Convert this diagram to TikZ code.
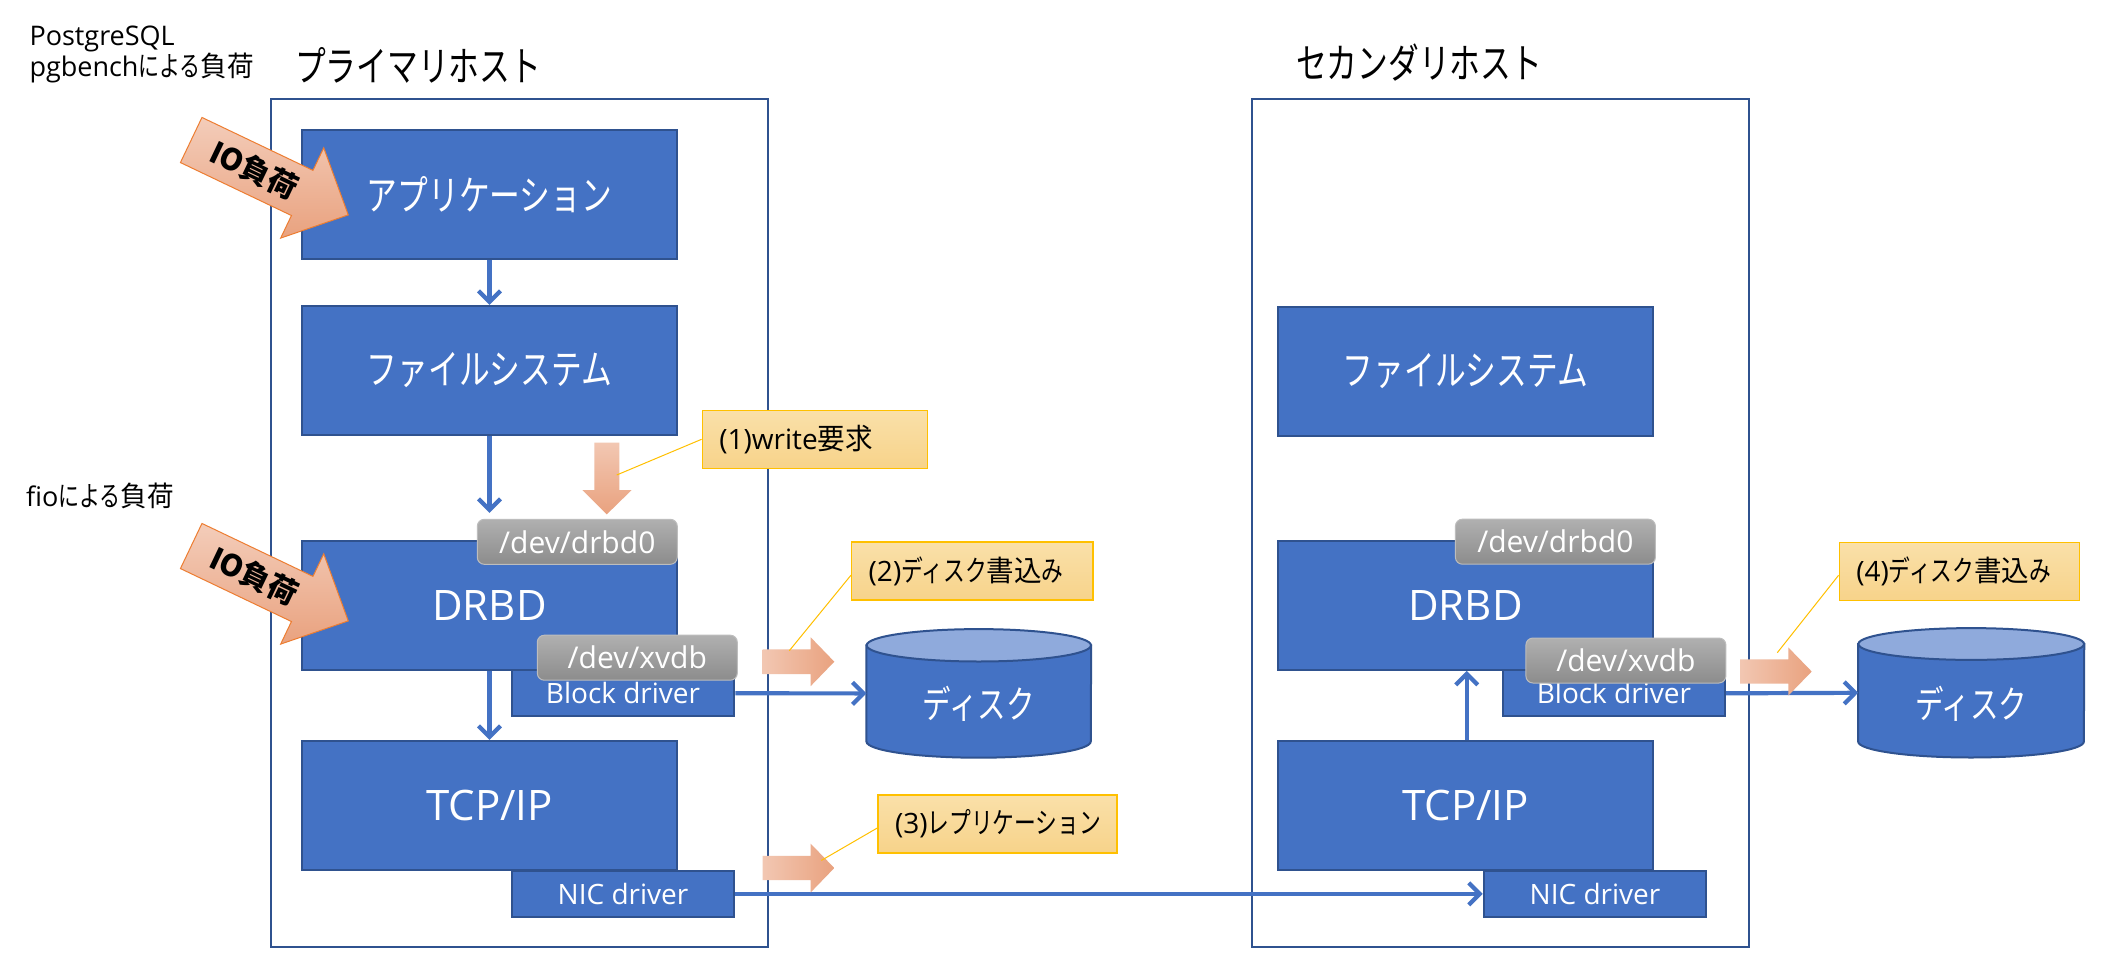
\documentclass[tikz,border=0pt]{standalone}
\usepackage{fontspec}
\setmainfont{Open Sans}
\newfontfamily\lat{Open Sans}
\newfontfamily\jp{Noto Sans CJK JP}[FakeStretch=0.75]
\newfontfamily\jpk{Noto Sans CJK JP}[FakeStretch=0.95]
\newfontfamily\jpio{Noto Sans CJK JP}[FakeStretch=1.0]
\usetikzlibrary{arrows.meta}
\definecolor{boxblue}{HTML}{4472C4}
\definecolor{boxedge}{HTML}{2F528F}
\definecolor{disktop}{HTML}{8FAADC}
\definecolor{lblT}{HTML}{FAE0A9}
\definecolor{lblB}{HTML}{F7D38A}
\definecolor{lbledge}{HTML}{FFC000}
\definecolor{salmonL}{HTML}{F2C7B2}
\definecolor{salmonD}{HTML}{E9A27F}
\definecolor{grayT}{HTML}{B0B0B0}
\definecolor{grayB}{HTML}{8C8C8C}
\definecolor{grayedge}{HTML}{BDBDBD}
\definecolor{arrowedge}{HTML}{ED7D31}
\tikzset{
  hostframe/.style={draw=boxedge, line width=2pt, inner sep=0pt},
  layerbox/.style={draw=boxedge, fill=boxblue, line width=2pt, text=white,
    minimum width=375.6pt, minimum height=129pt, inner sep=0pt},
  jpbig/.style={font=\jp\fontsize{41pt}{48pt}\selectfont},
  latbig/.style={font=\lat\fontsize{42pt}{50pt}\selectfont},
  drvbox/.style={draw=boxedge, fill=boxblue, line width=2pt, text=white,
    minimum width=222.6pt, minimum height=46pt, inner sep=0pt,
    font=\lat\fontsize{28pt}{34pt}\selectfont},
  devlbl/.style={rounded corners=7pt, top color=grayT, bottom color=grayB,
    draw=grayedge, line width=1pt, text=white, minimum width=200pt,
    minimum height=45pt, inner sep=0pt, font=\lat\fontsize{30pt}{36pt}\selectfont},
  conn/.style={draw=boxblue, line width=4.2pt,
    -{Straight Barb[length=11pt,width=22pt]}},
  notelbl/.style={draw=lbledge, line width=1.5pt, top color=lblT, bottom color=lblB,
    minimum height=58pt, inner xsep=17pt, inner ysep=0pt, align=left, text=black},
  callout/.style={draw=lbledge, line width=1pt},
  salmonh/.style={left color=salmonL, right color=salmonD},
  salmonv/.style={top color=salmonL, bottom color=salmonD},
  ioarrowstyle/.style={top color=salmonL!90!white, bottom color=salmonD, draw=arrowedge, line width=1pt},
  plaintext/.style={inner sep=0pt, text=black},
}
\newcommand{\lblfont}{\lat\fontsize{28pt}{32pt}\selectfont}
\newcommand{\lbljp}{\jp\fontsize{29pt}{32pt}\selectfont}
\newcommand{\lblkj}{\jpk\fontsize{29pt}{32pt}\selectfont}
\newcommand{\topfont}{\lat\fontsize{27pt}{32pt}\selectfont}
\newcommand{\topjp}{\jp\fontsize{28pt}{32pt}\selectfont}
\newcommand{\topkj}{\jpk\fontsize{28pt}{32pt}\selectfont}
\begin{document}
\begin{tikzpicture}[x=1pt,y=1pt]
\useasboundingbox (0,0) rectangle (2102,-964);
\fill[white] (0,0) rectangle (2102,-964);

% ---------- host frames and titles
\node[hostframe, minimum width=497.3pt, minimum height=847.4pt] (prim) at (519.35,-523) {};
\node[hostframe, minimum width=497.3pt, minimum height=848pt] (sec) at (1500.35,-522.6) {};
\node[plaintext, anchor=west, font=\jp\fontsize{41pt}{46pt}\selectfont] (primtitle) at (295,-65) {プライマリホスト};
\node[plaintext, anchor=west, font=\jp\fontsize{41pt}{46pt}\selectfont] (sectitle) at (1296,-63) {セカンダリホスト};

% ---------- left side texts
\node[plaintext, anchor=base west] (pg1) at (29.3,-45) {\topfont PostgreSQL};
\node[plaintext, anchor=base west] (pg2) at (29.3,-76) {{\topfont pgbench}{\topjp による}{\topkj 負荷}};
\node[plaintext, anchor=base west] (fio) at (26,-506) {{\topfont fio}{\topjp による}{\topkj 負荷}};

% ---------- primary layers
\node[drvbox] (blkp) at (623,-693.3) {Block driver};
\node[drvbox] (nicp) at (623,-893.8) {NIC driver};
\node[layerbox, jpbig] (appp) at (489.5,-194.5) {アプリケーション};
\node[layerbox, jpbig] (fsp) at (489.5,-370.4) {ファイルシステム};
\node[layerbox, latbig] (drbdp) at (489.5,-605.4) {DRBD};
\node[layerbox, latbig] (tcpp) at (489.5,-805.4) {TCP/IP};
\node[devlbl] (drbd0p) at (577.3,-541.8) {/dev/drbd0};
\node[devlbl] (xvdbp) at (637.3,-657.7) {/dev/xvdb};

% ---------- secondary layers
\node[drvbox] (blks) at (1613.9,-693.3) {Block driver};
\node[drvbox] (nics) at (1595,-893.8) {NIC driver};
\node[layerbox, jpbig] (fss) at (1465.5,-371) {ファイルシステム};
\node[layerbox, latbig] (drbds) at (1465.5,-605.4) {DRBD};
\node[layerbox, latbig] (tcps) at (1465.5,-805.4) {TCP/IP};
\node[devlbl] (drbd0s) at (1555.4,-541.7) {/dev/drbd0};
\node[devlbl] (xvdbs) at (1625.9,-660.5) {/dev/xvdb};

% ---------- disks
\node[minimum width=224.3pt, minimum height=128.2pt, inner sep=0pt] (disk1) at (978.8,-693.4) {};
\filldraw[fill=boxblue, draw=boxedge, line width=2pt]
  ([yshift=-16.2pt]disk1.north west) -- ([yshift=16.2pt]disk1.south west)
  arc[start angle=180, end angle=360, x radius=112.15pt, y radius=16.2pt]
  -- ([yshift=-16.2pt]disk1.north east) -- cycle;
\filldraw[fill=disktop, draw=boxedge, line width=2pt]
  ([yshift=-16.2pt]disk1.north) ellipse[x radius=112.15pt, y radius=16.2pt];
\node[plaintext, text=white, font=\jp\fontsize{38pt}{44pt}\selectfont] (disk1t) at ([yshift=-10.5pt]disk1.center) {ディスク};

\node[minimum width=225.7pt, minimum height=129pt, inner sep=0pt] (disk2) at (1971.2,-692.8) {};
\filldraw[fill=boxblue, draw=boxedge, line width=2pt]
  ([yshift=-15.9pt]disk2.north west) -- ([yshift=15.9pt]disk2.south west)
  arc[start angle=180, end angle=360, x radius=112.85pt, y radius=15.9pt]
  -- ([yshift=-15.9pt]disk2.north east) -- cycle;
\filldraw[fill=disktop, draw=boxedge, line width=2pt]
  ([yshift=-15.9pt]disk2.north) ellipse[x radius=112.85pt, y radius=15.9pt];
\node[plaintext, text=white, font=\jp\fontsize{38pt}{44pt}\selectfont] (disk2t) at ([yshift=-10.5pt]disk2.center) {ディスク};

% ---------- connectors
\draw[conn] (appp.south) -- (fsp.north);
\draw[conn, shorten >=6pt] (fsp.south) -- (fsp.south |- drbd0p.north);
\draw[conn] (drbdp.south) -- (tcpp.north);
\draw[conn] (blkp.east) -- (disk1.west);
\draw[conn] (nicp.east) -- (nics.west);
\draw[conn] ([xshift=1.2pt]tcps.north) -- ([xshift=1.2pt]drbds.south);
\draw[conn] (blks.east) -- (disk2.west);

% ---------- salmon flow arrows
\path[salmonv] (594.3,-442.7) -- (619.3,-442.7) -- (619.3,-490) -- (631.7,-490) -- (606.8,-514.3)
  -- (582.3,-490) -- (594.3,-490) -- cycle;
\path[salmonh] (762.7,-649.4) -- (810.7,-649.4) -- (810.7,-637.3) -- (834.3,-661.7)
  -- (810.7,-686.1) -- (810.7,-674) -- (762.7,-674) -- cycle;
\path[salmonh] (762.7,-855.8) -- (810.7,-855.8) -- (810.7,-843.7) -- (834.3,-868)
  -- (810.7,-892.4) -- (810.7,-880.2) -- (762.7,-880.2) -- cycle;
\path[salmonh] (1740,-659.3) -- (1788.3,-659.3) -- (1788.3,-647.4) -- (1811.7,-671.5)
  -- (1788.3,-695.6) -- (1788.3,-683.5) -- (1740,-683.5) -- cycle;
\coordinate (c1) at (616.7,-475);
\coordinate (c2) at (789.3,-650.7);
\coordinate (c3) at (821.4,-860.4);
\coordinate (c4) at (1777.3,-652.7);

% ---------- note labels
\node[notelbl, text width=191pt] (lbl1) at (814.8,-439.3) {{\lblfont (1)write}{\lblkj 要求}};
\node[notelbl, text width=207.3pt] (lbl2) at (972.35,-571.2) {{\lblfont (2)}{\lbljp ディスク}{\lblkj 書込}{\lbljp み}};
\node[notelbl, text width=205pt] (lbl3) at (997.5,-824) {{\lblfont (3)}{\lbljp レプリケーション}};
\node[notelbl, text width=206pt] (lbl4) at (1959.3,-571.3) {{\lblfont (4)}{\lbljp ディスク}{\lblkj 書込}{\lbljp み}};
\draw[callout] (lbl1.west) -- (c1);
\draw[callout] ([yshift=-4pt]lbl2.west) -- (c2);
\draw[callout] ([yshift=-4pt]lbl3.west) -- (c3);
\draw[callout] ([yshift=-4pt]lbl4.west) -- (c4);

% ---------- IO load arrows
\begin{scope}[shift={(191.2,-140)}, rotate=-25.5]
  \path[ioarrowstyle] (0,25) -- (123,25) -- (123,50) -- (174,0) -- (123,-50) -- (123,-25) -- (0,-25) -- cycle;
  \node[plaintext, transform shape, font=\jpio\bfseries\fontsize{30pt}{34pt}\selectfont] (io1) at (70,0) {IO負荷};
\end{scope}
\begin{scope}[shift={(191.2,-546)}, rotate=-25.5]
  \path[ioarrowstyle] (0,25) -- (123,25) -- (123,50) -- (174,0) -- (123,-50) -- (123,-25) -- (0,-25) -- cycle;
  \node[plaintext, transform shape, font=\jpio\bfseries\fontsize{30pt}{34pt}\selectfont] (io2) at (70,0) {IO負荷};
\end{scope}
\end{tikzpicture}
\end{document}
